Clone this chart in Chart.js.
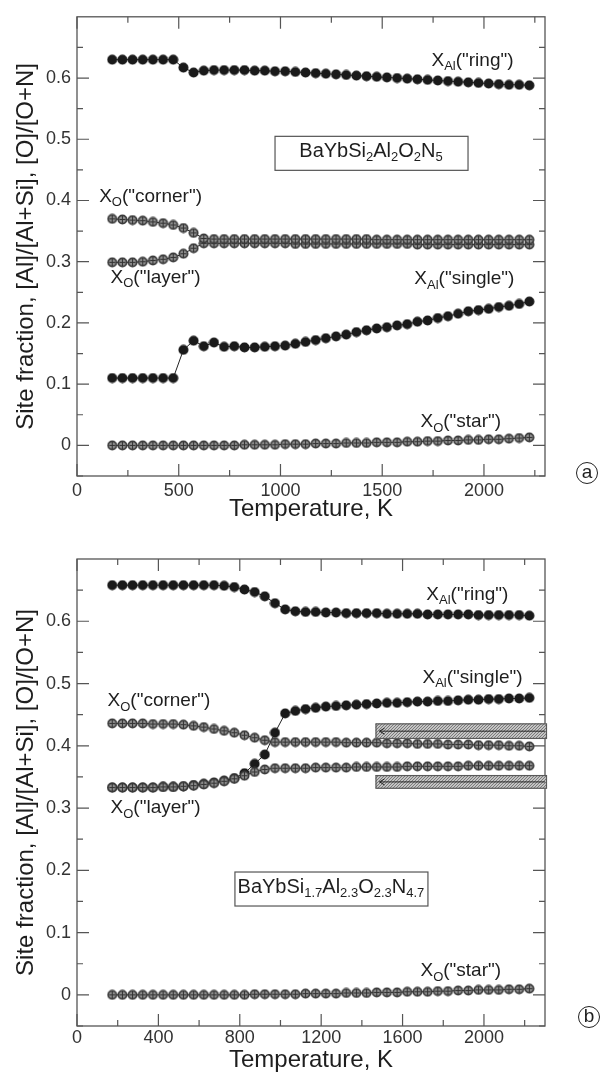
<!DOCTYPE html>
<html>
<head>
<meta charset="utf-8">
<script src="https://cdn.jsdelivr.net/npm/chart.js@4.4.0/dist/chart.umd.min.js"></script>
<style>
html, body { margin: 0; padding: 0; background: #fff; }
#wrap { position: relative; width: 603px; height: 1075px; }
canvas { position: absolute; left: 0; }
#chartA { top: 0; }
#chartB { top: 535px; }
</style>
</head>
<body>
<div id="wrap">
  <canvas id="chartA" width="603" height="535"></canvas>
  <canvas id="chartB" width="603" height="540"></canvas>
</div>
<script>
// temperatures, K (same grid for both panels)
const temps = [173, 223, 273, 323, 373, 423, 473, 523, 573, 623, 673, 723, 773, 823, 873, 923, 973, 1023, 1073, 1123,
    1173, 1223, 1273, 1323, 1373, 1423, 1473, 1523, 1573, 1623, 1673, 1723, 1773, 1823, 1873, 1923, 1973, 2023, 2073, 2123,
    2173, 2223];

// panel (a): BaYbSi2Al2O2N5
const ringA = [0.630, 0.630, 0.630, 0.630, 0.630, 0.630, 0.630, 0.617, 0.609, 0.612,
    0.613, 0.613, 0.613, 0.613, 0.612, 0.612, 0.611, 0.611, 0.610, 0.609,
    0.608, 0.607, 0.606, 0.605, 0.604, 0.603, 0.602, 0.601, 0.600, 0.599,
    0.598, 0.597, 0.596, 0.595, 0.594, 0.593, 0.592, 0.591, 0.590, 0.589,
    0.589, 0.588];
const singleA = [0.110, 0.110, 0.110, 0.110, 0.110, 0.110, 0.110, 0.156, 0.171, 0.162,
    0.168, 0.161, 0.162, 0.160, 0.160, 0.161, 0.162, 0.163, 0.166, 0.169,
    0.172, 0.175, 0.178, 0.181, 0.185, 0.188, 0.191, 0.193, 0.196, 0.198,
    0.202, 0.204, 0.208, 0.211, 0.215, 0.219, 0.221, 0.223, 0.226, 0.228,
    0.231, 0.235];
const cornerA = [0.370, 0.369, 0.368, 0.367, 0.365, 0.363, 0.360, 0.355, 0.347, 0.338,
    0.337, 0.337, 0.337, 0.337, 0.337, 0.337, 0.337, 0.337, 0.337, 0.337,
    0.337, 0.337, 0.337, 0.337, 0.337, 0.337, 0.336, 0.336, 0.336, 0.336,
    0.336, 0.336, 0.336, 0.336, 0.336, 0.336, 0.336, 0.336, 0.336, 0.336,
    0.336, 0.336];
const layerA = [0.299, 0.299, 0.299, 0.300, 0.302, 0.304, 0.307, 0.313, 0.322, 0.330,
    0.330, 0.330, 0.330, 0.330, 0.330, 0.330, 0.330, 0.330, 0.329, 0.329,
    0.329, 0.329, 0.329, 0.329, 0.329, 0.329, 0.329, 0.329, 0.329, 0.329,
    0.328, 0.328, 0.328, 0.328, 0.328, 0.328, 0.328, 0.328, 0.328, 0.328,
    0.328, 0.328];
const starA = [0, 0, 0, 0, 0, 0, 0, 0, 0, 0,
    0, 0, 0, 0.001, 0.001, 0.001, 0.001, 0.002, 0.002, 0.002,
    0.003, 0.003, 0.003, 0.004, 0.004, 0.004, 0.005, 0.005, 0.005, 0.006,
    0.006, 0.007, 0.007, 0.008, 0.008, 0.009, 0.009, 0.010, 0.010, 0.011,
    0.012, 0.013];

// panel (b): BaYbSi1.7Al2.3O2.3N4.7
const ringB = [0.658, 0.658, 0.658, 0.658, 0.658, 0.658, 0.658, 0.658, 0.658, 0.658,
    0.658, 0.657, 0.655, 0.651, 0.647, 0.640, 0.629, 0.619, 0.616, 0.615,
    0.615, 0.614, 0.614, 0.613, 0.613, 0.613, 0.613, 0.612, 0.612, 0.612,
    0.612, 0.611, 0.611, 0.611, 0.611, 0.611, 0.610, 0.610, 0.610, 0.610,
    0.610, 0.609];
const singleB = [0.333, 0.333, 0.333, 0.333, 0.333, 0.334, 0.334, 0.335, 0.337, 0.339,
    0.341, 0.344, 0.348, 0.356, 0.371, 0.386, 0.421, 0.452, 0.456, 0.459,
    0.461, 0.463, 0.464, 0.465, 0.466, 0.467, 0.468, 0.469, 0.469, 0.470,
    0.471, 0.471, 0.472, 0.472, 0.473, 0.474, 0.474, 0.475, 0.475, 0.476,
    0.476, 0.477];
const cornerB = [0.436, 0.436, 0.436, 0.436, 0.435, 0.435, 0.435, 0.434, 0.432, 0.430,
    0.427, 0.424, 0.421, 0.417, 0.413, 0.409, 0.406, 0.406, 0.406, 0.406,
    0.406, 0.406, 0.406, 0.405, 0.405, 0.405, 0.405, 0.404, 0.404, 0.404,
    0.403, 0.403, 0.403, 0.402, 0.402, 0.402, 0.401, 0.401, 0.401, 0.400,
    0.400, 0.399];
const layerB = [0.333, 0.333, 0.333, 0.333, 0.333, 0.334, 0.334, 0.335, 0.336, 0.338,
    0.340, 0.343, 0.347, 0.352, 0.358, 0.362, 0.364, 0.364, 0.364, 0.364,
    0.365, 0.365, 0.365, 0.365, 0.366, 0.366, 0.366, 0.366, 0.366, 0.367,
    0.367, 0.367, 0.367, 0.367, 0.367, 0.368, 0.368, 0.368, 0.368, 0.368,
    0.368, 0.368];
const starB = [0, 0, 0, 0, 0, 0, 0, 0, 0, 0,
    0, 0, 0, 0, 0.001, 0.001, 0.001, 0.001, 0.001, 0.002,
    0.002, 0.002, 0.002, 0.003, 0.003, 0.003, 0.004, 0.004, 0.004, 0.005,
    0.005, 0.005, 0.006, 0.006, 0.007, 0.007, 0.008, 0.008, 0.008, 0.009,
    0.009, 0.010];

// axis ticks
const yMajor = [0, 0.1, 0.2, 0.3, 0.4, 0.5, 0.6];
const yMinor = [-0.05, 0.05, 0.15, 0.25, 0.35, 0.45, 0.55, 0.65];
const xMajorA = [0, 500, 1000, 1500, 2000];
const xMinorA = [250, 750, 1250, 1750, 2250];
const xMajorB = [0, 400, 800, 1200, 1600, 2000];
const xMinorB = [200, 600, 1000, 1400, 1800, 2200];

const FONT = '"Liberation Sans", Arial, Helvetica, sans-serif';
const INK = '#1e1e1e';

function makeMarker(kind) {
    const c = document.createElement('canvas');
    c.width = 11;
    c.height = 11;
    const g = c.getContext('2d');
    g.beginPath();
    g.arc(5.5, 5.5, 5, 0, Math.PI * 2);
    if (kind === 'solid') {
        g.fillStyle = '#1a1a1a';
        g.fill();
    } else {
        g.fillStyle = '#3a3a3a';
        g.fill();
        g.beginPath();
        g.arc(5.5, 5.5, 3.3, 0, Math.PI * 2);
        g.fillStyle = '#8c8c8c';
        g.fill();
        g.strokeStyle = '#333';
        g.lineWidth = 1;
        g.beginPath();
        g.moveTo(5.5, 2); g.lineTo(5.5, 9);
        g.moveTo(2.5, 5.5); g.lineTo(8.5, 5.5);
        g.stroke();
    }
    return c;
}
const solidMark = makeMarker('solid');
const hatchMark = makeMarker('hatch');

function series(vals, mark) {
    return {
        data: temps.map((t, i) => ({ x: t, y: vals[i] })),
        showLine: true,
        borderColor: '#222',
        borderWidth: 1,
        backgroundColor: '#222',
        pointStyle: mark,
        pointRadius: 5,
        pointHoverRadius: 5
    };
}

function drawRich(ctx, parts, x, y, size, subSize, measureOnly) {
    let cx = x;
    parts.forEach(([t, sub]) => {
        ctx.font = (sub ? subSize : size) + 'px ' + FONT;
        if (!measureOnly) ctx.fillText(t, cx, sub ? y + size * 0.32 : y);
        cx += ctx.measureText(t).width;
    });
    return cx - x;
}

const deco = {
    id: 'deco',
    beforeDatasetsDraw(chart, args, opts) {
        const { ctx, chartArea: a, scales: { x, y } } = chart;
        ctx.save();
        ctx.strokeStyle = '#555';
        ctx.lineWidth = 1.2;
        ctx.beginPath();
        const tick = (v, len, horiz) => {
            if (horiz) {
                const px = x.getPixelForValue(v);
                ctx.moveTo(px, a.bottom); ctx.lineTo(px, a.bottom - len);
                ctx.moveTo(px, a.top); ctx.lineTo(px, a.top + len);
            } else {
                const py = y.getPixelForValue(v);
                ctx.moveTo(a.left, py); ctx.lineTo(a.left + len, py);
                ctx.moveTo(a.right, py); ctx.lineTo(a.right - len, py);
            }
        };
        opts.xMajor.forEach(v => tick(v, 12, true));
        opts.xMinor.forEach(v => tick(v, 6, true));
        yMajor.forEach(v => tick(v, 12, false));
        yMinor.forEach(v => tick(v, 6, false));
        ctx.stroke();
        ctx.lineWidth = 1.3;
        ctx.strokeRect(a.left, a.top, a.right - a.left, a.bottom - a.top);
        ctx.restore();
    },
    afterDatasetsDraw(chart, args, opts) {
        const { ctx, chartArea: a, scales: { x, y } } = chart;
        ctx.save();

        // shaded callout strips with arrows
        (opts.strips || []).forEach(s => {
            const pc = document.createElement('canvas');
            pc.width = 3; pc.height = 3;
            const pg = pc.getContext('2d');
            pg.fillStyle = '#c4c4c4';
            pg.fillRect(0, 0, 3, 3);
            pg.fillStyle = '#7a7a7a';
            pg.fillRect(0, 0, 1, 1);
            pg.fillRect(2, 1, 1, 1);
            pg.fillRect(1, 2, 1, 1);
            const x0 = x.getPixelForValue(s.x0);
            const x1 = a.right + 2;
            const y0 = y.getPixelForValue(s.y0);
            const y1 = y.getPixelForValue(s.y1);
            ctx.fillStyle = ctx.createPattern(pc, 'repeat');
            ctx.fillRect(x0, y0, x1 - x0, y1 - y0);
            ctx.strokeStyle = '#5a5a5a';
            ctx.lineWidth = 1.2;
            ctx.strokeRect(x0 + 0.5, y0 + 0.5, x1 - x0 - 1, y1 - y0 - 1);
            const ym = (y0 + y1) / 2;
            ctx.strokeStyle = '#222';
            ctx.lineWidth = 1;
            ctx.beginPath();
            ctx.moveTo(x1 - 2, ym); ctx.lineTo(x0 + 4, ym);
            ctx.moveTo(x0 + 9, ym - 3); ctx.lineTo(x0 + 4, ym); ctx.lineTo(x0 + 9, ym + 3);
            ctx.stroke();
        });

        // series labels
        ctx.fillStyle = INK;
        ctx.textBaseline = 'middle';
        ctx.textAlign = 'left';
        opts.labels.forEach(l => {
            drawRich(ctx, l.parts, x.getPixelForValue(l.x), y.getPixelForValue(l.y), 19, 13);
        });

        // compound box
        const b = opts.box;
        const bx = x.getPixelForValue(b.x);
        const by = y.getPixelForValue(b.y);
        const tw = drawRich(ctx, b.parts, 0, 0, 20, 13, true);
        ctx.fillStyle = '#fff';
        ctx.fillRect(bx - 96, by - 17, 193, 34);
        ctx.strokeStyle = '#555';
        ctx.lineWidth = 1.2;
        ctx.strokeRect(bx - 96, by - 17, 193, 34);
        ctx.fillStyle = INK;
        drawRich(ctx, b.parts, bx - tw / 2, by - 2, 20, 13);

        // circled panel letter
        const cx = a.right + opts.letterDx;
        const cy = a.bottom + opts.letterDy;
        ctx.strokeStyle = '#222';
        ctx.lineWidth = 1;
        ctx.beginPath();
        ctx.arc(cx, cy, 10.5, 0, Math.PI * 2);
        ctx.stroke();
        ctx.font = '19px ' + FONT;
        ctx.textAlign = 'center';
        ctx.fillText(opts.letter, cx, cy);
        ctx.restore();
    }
};

function makeChart(id, sets, xMajor, xMinor, pad, xHeight, tickPad, titlePad, decoOpts) {
    const ctx = document.getElementById(id).getContext('2d');
    return new Chart(ctx, {
        type: 'scatter',
        data: { datasets: sets },
        options: {
            responsive: false,
            animation: false,
            devicePixelRatio: 1,
            layout: { padding: { top: pad, right: 58, bottom: 0, left: 0 } },
            plugins: {
                legend: { display: false },
                tooltip: { enabled: false },
                deco: Object.assign({ xMajor: xMajor, xMinor: xMinor }, decoOpts)
            },
            scales: {
                x: {
                    type: 'linear',
                    min: 0,
                    max: 2300,
                    afterBuildTicks: s => { s.ticks = xMajor.map(v => ({ value: v })); },
                    afterFit: s => { s.height = xHeight; },
                    grid: { display: false, drawTicks: false },
                    border: { display: false },
                    ticks: {
                        autoSkip: false,
                        maxRotation: 0,
                        padding: tickPad,
                        color: '#333',
                        font: { family: FONT, size: 18 },
                        callback: v => String(v)
                    },
                    title: {
                        display: true,
                        text: 'Temperature, K',
                        color: INK,
                        font: { family: FONT, size: 24 },
                        padding: { top: 0, bottom: titlePad }
                    }
                },
                y: {
                    min: -0.05,
                    max: 0.7,
                    afterBuildTicks: s => { s.ticks = yMajor.map(v => ({ value: v })); },
                    afterFit: s => { s.width = 77; },
                    grid: { display: false, drawTicks: false },
                    border: { display: false },
                    ticks: {
                        padding: 6,
                        color: '#333',
                        font: { family: FONT, size: 18 },
                        callback: v => (v === 0 ? '0' : v.toFixed(1))
                    },
                    title: {
                        display: true,
                        text: 'Site fraction, [Al]/[Al+Si], [O]/[O+N]',
                        color: INK,
                        font: { family: FONT, size: 24 },
                        padding: { top: 12, bottom: 0 }
                    }
                }
            }
        },
        plugins: [deco]
    });
}

// hatched (O) series first so they sit on top of the solid (Al) ones
makeChart('chartA',
    [series(cornerA, hatchMark), series(layerA, hatchMark), series(starA, hatchMark),
     series(ringA, solidMark), series(singleA, solidMark)],
    xMajorA, xMinorA, 11, 59, 4, 11,
    {
        letter: 'a', letterDx: 42, letterDy: -3,
        labels: [
            { x: 1742, y: 0.629, parts: [['X', 0], ['Al', 1], ['("ring")', 0]] },
            { x: 109, y: 0.406, parts: [['X', 0], ['O', 1], ['("corner")', 0]] },
            { x: 165, y: 0.274, parts: [['X', 0], ['O', 1], ['("layer")', 0]] },
            { x: 1658, y: 0.272, parts: [['X', 0], ['Al', 1], ['("single")', 0]] },
            { x: 1688, y: 0.038, parts: [['X', 0], ['O', 1], ['("star")', 0]] }
        ],
        box: { x: 1445, y: 0.477, parts: [['BaYbSi', 0], ['2', 1], ['Al', 0], ['2', 1], ['O', 0], ['2', 1], ['N', 0], ['5', 1]] }
    });

makeChart('chartB',
    [series(cornerB, hatchMark), series(layerB, hatchMark), series(starB, hatchMark),
     series(ringB, solidMark), series(singleB, solidMark)],
    xMajorB, xMinorB, 24, 49, 1, 0,
    {
        letter: 'b', letterDx: 44, letterDy: -9,
        labels: [
            { x: 1717, y: 0.643, parts: [['X', 0], ['Al', 1], ['("ring")', 0]] },
            { x: 1698, y: 0.510, parts: [['X', 0], ['Al', 1], ['("single")', 0]] },
            { x: 150, y: 0.472, parts: [['X', 0], ['O', 1], ['("corner")', 0]] },
            { x: 165, y: 0.300, parts: [['X', 0], ['O', 1], ['("layer")', 0]] },
            { x: 1688, y: 0.038, parts: [['X', 0], ['O', 1], ['("star")', 0]] }
        ],
        box: { x: 1248, y: 0.170, parts: [['BaYbSi', 0], ['1.7', 1], ['Al', 0], ['2.3', 1], ['O', 0], ['2.3', 1], ['N', 0], ['4.7', 1]] },
        strips: [
            { x0: 1467, y0: 0.436, y1: 0.411 },
            { x0: 1467, y0: 0.353, y1: 0.331 }
        ]
    });
</script>
</body>
</html>
